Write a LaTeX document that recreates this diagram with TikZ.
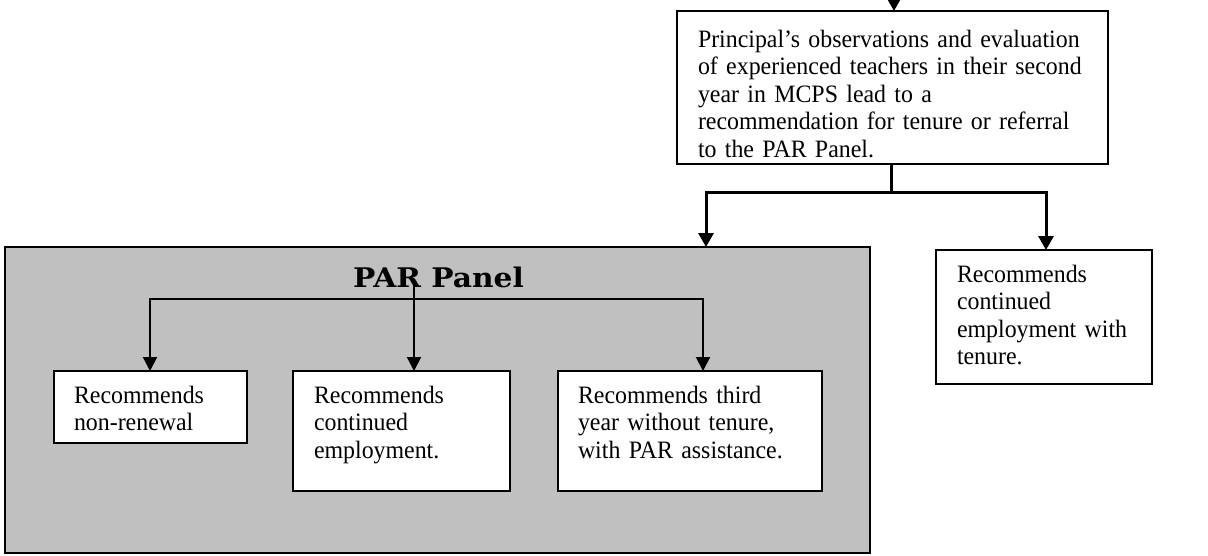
\documentclass[tikz,border=0pt]{standalone}
\usepackage{fontspec}
\setmainfont{Liberation Serif}[FakeStretch=0.955]
\newfontfamily\titlefont{DejaVu Serif}[FakeStretch=1.1]
\usetikzlibrary{arrows.meta}
\definecolor{panelgray}{HTML}{C0C0C0}
\begin{document}
\begin{tikzpicture}[x=1pt,y=-1pt,
  txtbox/.style={draw, line width=2.3pt, fill=white, outer sep=0pt,
    inner xsep=21pt, inner ysep=0pt, align=left, anchor=north west,
    font=\fontsize{25}{27.6}\selectfont},
  panelbox/.style={draw, line width=2.3pt, fill=panelgray, outer sep=0pt,
    inner sep=0pt, anchor=north west},
  titletext/.style={font=\titlefont\bfseries\fontsize{27}{30}\selectfont,
    inner sep=0pt, anchor=base},
  bigline/.style={line width=3pt},
  bigarrow/.style={line width=3pt, -{Triangle[width=15pt,length=14pt]}},
  smallarrow/.style={line width=2pt, -{Triangle[width=14pt,length=14pt]}}
]
\useasboundingbox (0,0) rectangle (1208,555);
\clip (0,0) rectangle (1208,555);

% top box
\node[txtbox, text width=389pt, text height=36pt, text depth=117pt] (top) at (677,11)
  {Principal’s observations and evaluation\\of experienced teachers in their second\\year in MCPS lead to a\\recommendation for tenure or referral\\to the PAR Panel.};

% panel
\node[panelbox, minimum width=865pt, minimum height=306pt] (panel) at (5,247) {};
\node[titletext] (title) at (438.5,287) {PAR Panel};

% right box
\node[txtbox, text width=174pt, text height=32pt, text depth=102pt] (right) at (936,250)
  {Recommends\\continued\\employment with\\tenure.};

% inner boxes
\node[txtbox, inner xsep=20pt, text width=153pt, text height=32pt, text depth=40pt] (box1) at (54,371)
  {Recommends\\non-renewal};
\node[txtbox, text width=175pt, text height=32pt, text depth=88pt] (box2) at (293,371)
  {Recommends\\continued\\employment.};
\node[txtbox, inner xsep=20pt, text width=224pt, text height=32pt, text depth=88pt] (box3) at (558,371)
  {Recommends third\\year without tenure,\\with PAR assistance.};

% top connectors
\coordinate (src) at (894,-20);
\coordinate (jtop) at (891,192);
\coordinate (jl) at (706,192);
\coordinate (jr) at (1046,192);
\draw[bigarrow] (src) -- (src |- top.north);
\draw[bigline] (top.south -| jtop) -- (jtop);
\draw[bigarrow] (jtop) -| (panel.north -| jl);
\draw[bigarrow] (jtop) -| (right.north -| jr);

% inner connectors
\coordinate (h1) at (150,299);
\coordinate (h3) at (703,299);
\coordinate (j2) at (414,285);
\draw[smallarrow] (h1) -| (box3.north -| h3);
\draw[smallarrow] (h3) -| (box1.north -| h1);
\draw[smallarrow] (j2) -- (box2.north -| j2);
\end{tikzpicture}
\end{document}
